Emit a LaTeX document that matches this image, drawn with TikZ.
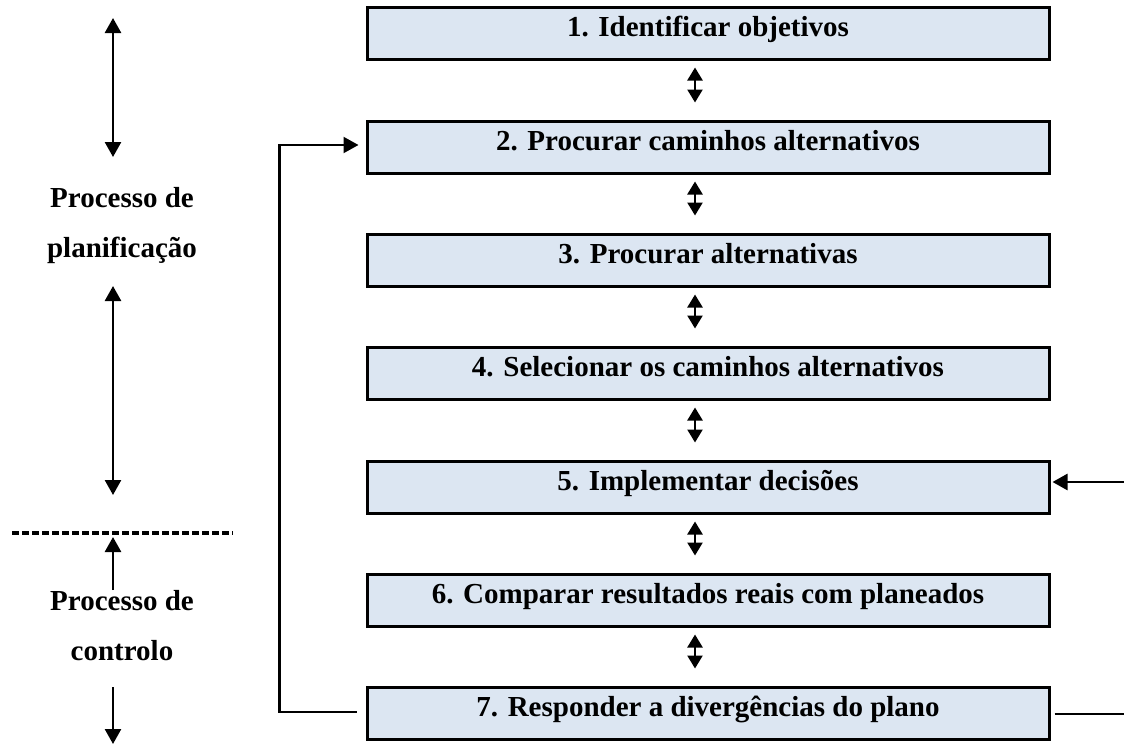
\documentclass[tikz,border=0pt]{standalone}
\usepackage{fontspec}
\setmainfont{Liberation Serif}
\usetikzlibrary{arrows.meta,calc}
\definecolor{boxfill}{RGB}{220,230,242}
\begin{document}
\begin{tikzpicture}[x=1pt,y=1pt,
  stepbox/.style={draw=black,line width=3pt,fill=boxfill,minimum width=682pt,minimum height=52pt,
    inner sep=0pt,text height=16pt,text depth=10pt,font=\fontsize{29}{35}\selectfont\bfseries},
  sidelabel/.style={align=center,font=\fontsize{29}{50}\selectfont\bfseries,inner sep=0pt},
  dblarrow/.style={line width=2.4pt,{Triangle[length=13pt,width=15pt]}-{Triangle[length=13pt,width=15pt]}},
  bigarrow/.style={line width=2.6pt,{Triangle[length=15pt,width=16pt]}-{Triangle[length=15pt,width=16pt]}},
  onearrow/.style={line width=2.6pt,-{Triangle[length=15pt,width=16pt]}},
  conn/.style={line width=2.2pt}]
\useasboundingbox (0,0) rectangle (1124,-744);

% process boxes
\node[stepbox] (b1) at (708,-33)  {1. Identificar objetivos};
\node[stepbox] (b2) at (708,-147) {2. Procurar caminhos alternativos};
\node[stepbox] (b3) at (708,-260) {3. Procurar alternativas};
\node[stepbox] (b4) at (708,-373) {4. Selecionar os caminhos alternativos};
\node[stepbox] (b5) at (708,-487) {5. Implementar decisões};
\node[stepbox] (b6) at (708,-600) {6. Comparar resultados reais com planeados};
\node[stepbox] (b7) at (708,-713) {7. Responder a divergências do plano};

% double arrows between boxes
\foreach \a/\b in {b1/b2,b2/b3,b3/b4,b4/b5,b5/b6,b6/b7}{
  \draw[dblarrow] ($(\a.south)+(-13,-7)$) -- ($(\b.north)+(-13,17)$);
}

% feedback loop
\draw[conn,-{Triangle[length=15pt,width=16pt]}] ($(b7.west)+(-9,1)$) -- ++(-77,0) |- ($(b2.west)+(-7,2)$);

% right side
\coordinate (rin) at (1124,-482);
\coordinate (rout) at (1124,-714);
\draw[onearrow] (rin) -- ($(b5.east)+(2,5)$);
\draw[conn] ($(b7.east)+(4,-1)$) -- (rout);

% left side
\node[sidelabel] (plan) at (122,-226) {Processo de\\planificação};
\node[sidelabel] (ctrl) at (122,-626) {Processo de\\controlo};
\coordinate (p1a) at (113,-18);
\coordinate (p1b) at (113,-157);
\coordinate (p2a) at (113,-286);
\coordinate (p2b) at (113,-495);
\coordinate (c1a) at (113,-590);
\coordinate (c1b) at (113,-537);
\coordinate (c2a) at (113,-687);
\coordinate (c2b) at (113,-744);
\draw[bigarrow] (p1a) -- (p1b);
\draw[bigarrow] (p2a) -- (p2b);
\draw[onearrow] (c1a) -- (c1b);
\draw[onearrow] (c2a) -- (c2b);

% separator
\coordinate (sepL) at (12,-533);
\coordinate (sepR) at (233,-533);
\draw[line width=3.2pt,dash pattern=on 7pt off 3pt] (sepL) -- (sepR);
\end{tikzpicture}
\end{document}
